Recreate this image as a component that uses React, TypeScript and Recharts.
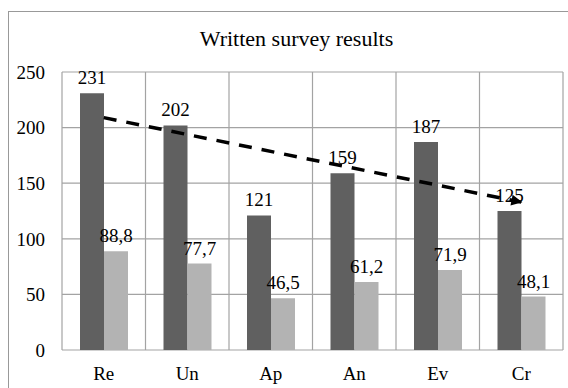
import { Bar, BarChart, CartesianGrid, LabelList, ReferenceLine, XAxis, YAxis } from "recharts";

const categories = ["Re", "Un", "Ap", "An", "Ev", "Cr"];
const writtenValues = [231, 202, 121, 159, 187, 125];
const secondValues = [88.8, 77.7, 46.5, 61.2, 71.9, 48.1];
const yTicks = [0, 50, 100, 150, 200, 250];
// trend line end values
const trendStart = 209;
const trendEnd = 133;

const serif = '"Liberation Serif", "Times New Roman", serif';
const gridColor = "#a3a3a3";

const chartData = categories.map((name, i) => ({
  name,
  written: writtenValues[i],
  second: secondValues[i],
}));

function TrendArrow(props: any) {
  const { x1, y1, x2, y2 } = props;
  return (
    <g>
      <defs>
        <marker
          id="trendArrow"
          viewBox="0 0 10 10"
          refX="9"
          refY="5"
          markerUnits="userSpaceOnUse"
          markerWidth="14"
          markerHeight="11"
          orient="auto"
        >
          <path d="M0,0 L10,5 L0,10 z" fill="#000" />
        </marker>
      </defs>
      <line
        x1={x1}
        y1={y1}
        x2={x2}
        y2={y2}
        stroke="#000"
        strokeWidth={3.5}
        strokeDasharray="13 10"
        markerEnd="url(#trendArrow)"
      />
    </g>
  );
}

export default function App() {
  return (
    <div
      style={{
        position: "absolute",
        left: 8,
        top: 11,
        width: 560,
        height: 377,
        boxSizing: "border-box",
        borderTop: "1px solid #999",
        borderLeft: "1px solid #999",
        fontFamily: serif,
      }}
    >
      <div
        style={{
          position: "absolute",
          left: 0,
          top: 16,
          width: 575,
          textAlign: "center",
          fontSize: 22,
          lineHeight: "22px",
          color: "#000",
        }}
      >
        Written survey results
      </div>
      <div style={{ position: "absolute", left: -1, top: -1 }}>
        <BarChart
          width={560}
          height={377}
          data={chartData}
          margin={{ top: 61, right: 5, bottom: 0, left: 14 }}
          barGap={0}
        >
          <CartesianGrid
            stroke={gridColor}
            strokeWidth={1.2}
            verticalCoordinatesGenerator={({ offset }: any) =>
              Array.from({ length: categories.length + 1 }, (_, i) => offset.left + (i * offset.width) / categories.length)
            }
          />
          <XAxis
            dataKey="name"
            axisLine={false}
            tickLine={false}
            tickSize={0}
            tickMargin={17}
            height={38}
            tick={{ fill: "#000", fontSize: 19, fontFamily: serif }}
          />
          <YAxis
            domain={[0, 250]}
            ticks={yTicks}
            axisLine={false}
            tickLine={false}
            tickSize={0}
            tickMargin={17}
            width={40}
            tick={{ fill: "#000", fontSize: 19, fontFamily: serif }}
          />
          <Bar dataKey="written" fill="#606060" barSize={24} isAnimationActive={false}>
            <LabelList dataKey="written" position="top" offset={9} fill="#000" fontSize={19} fontFamily={serif} />
          </Bar>
          <Bar dataKey="second" fill="#b3b3b3" barSize={24} isAnimationActive={false}>
            <LabelList
              dataKey="second"
              position="top"
              offset={9}
              fill="#000"
              fontSize={19}
              fontFamily={serif}
              formatter={(v: any) => String(v).replace(".", ",")}
            />
          </Bar>
          <ReferenceLine
            segment={[
              { x: categories[0], y: trendStart },
              { x: categories[categories.length - 1], y: trendEnd },
            ]}
            shape={TrendArrow}
          />
        </BarChart>
      </div>
    </div>
  );
}
